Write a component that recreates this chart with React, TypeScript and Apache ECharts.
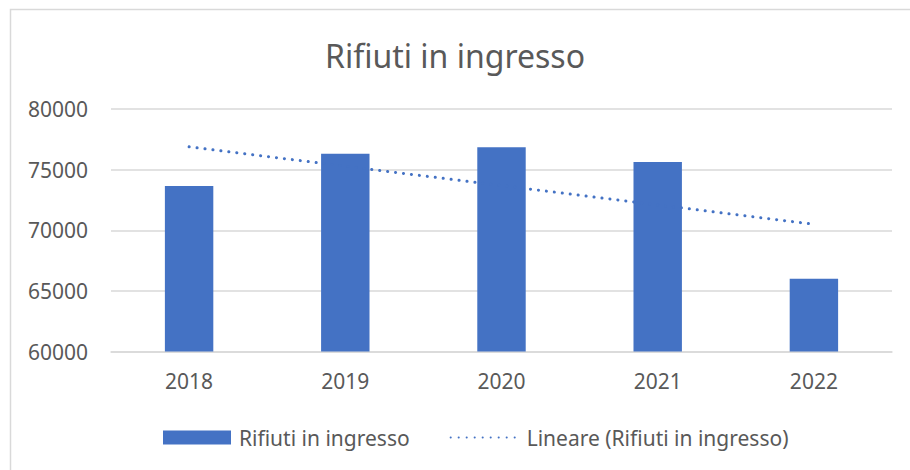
import React, { useEffect, useRef } from "react";
import * as echarts from "echarts";

const categories = ["2018", "2019", "2020", "2021", "2022"];
const values = [73650, 76300, 76850, 75630, 66000];
const seriesName = "Rifiuti in ingresso";
const trendName = "Lineare (Rifiuti in ingresso)";
const titleText = "Rifiuti in ingresso";

// Excel-style linear trendline (least squares) computed from the bar values
function linearTrend(ys: number[]): number[] {
  const n = ys.length;
  const xs = ys.map((_, i) => i + 1);
  const mx = xs.reduce((a, b) => a + b, 0) / n;
  const my = ys.reduce((a, b) => a + b, 0) / n;
  let num = 0;
  let den = 0;
  for (let i = 0; i < n; i++) {
    num += (xs[i] - mx) * (ys[i] - my);
    den += (xs[i] - mx) * (xs[i] - mx);
  }
  const slope = num / den;
  return xs.map((x) => Math.round(my + slope * (x - mx)));
}

const FONT = "Noto Sans";
const TEXT = "#595959";
const BLUE = "#4472C4";
const GRID = "#d9d9d9";

export default function App() {
  const ref = useRef<HTMLDivElement>(null);
  useEffect(() => {
    if (!ref.current) return;
    const chart = echarts.init(ref.current, undefined, { renderer: "svg" });
    const trend = linearTrend(values);
    chart.setOption({
      animation: false,
      backgroundColor: "#ffffff",
      textStyle: { fontFamily: FONT },
      title: {
        text: titleText,
        left: "center",
        top: 34,
        textStyle: { fontFamily: FONT, fontSize: 32, fontWeight: "normal", color: TEXT },
      },
      graphic: [
        {
          type: "rect",
          shape: { x: 10.5, y: 9.5, width: 930, height: 490 },
          style: { fill: "none", stroke: GRID, lineWidth: 1.5 },
          silent: true,
          z: -1,
        },
      ],
      legend: {
        left: 158,
        top: 422,
        itemWidth: 68,
        itemHeight: 14,
        itemGap: 40,
        textStyle: { fontFamily: FONT, fontSize: 21, color: TEXT, padding: [0, 0, 0, 3] },
        data: [
          { name: seriesName, icon: "rect" },
          { name: trendName, itemStyle: { opacity: 0 } },
        ],
      },
      grid: { left: 111, right: 18, top: 109, bottom: 118.5 },
      xAxis: {
        type: "category",
        data: categories,
        axisLine: { show: true, lineStyle: { color: GRID, width: 1.5 } },
        axisTick: { show: false },
        axisLabel: { fontFamily: FONT, fontSize: 21, color: TEXT, margin: 19 },
      },
      yAxis: {
        type: "value",
        min: 60000,
        max: 80000,
        interval: 5000,
        axisLine: { show: false },
        axisTick: { show: false },
        splitLine: { lineStyle: { color: GRID, width: 1.5 } },
        axisLabel: {
          fontFamily: FONT,
          fontSize: 21,
          color: TEXT,
          margin: 23,
          formatter: (v: number) => String(v),
        },
      },
      series: [
        {
          name: seriesName,
          type: "bar",
          data: values,
          barWidth: "31%",
          itemStyle: { color: BLUE },
        },
        {
          name: trendName,
          type: "line",
          data: trend,
          symbol: "none",
          z: 3,
          lineStyle: { color: BLUE, width: 3, type: [0.1, 7.9], cap: "round" },
          itemStyle: { color: BLUE },
        },
      ],
    });
    return () => chart.dispose();
  }, []);
  return (
    <div
      ref={ref}
      style={{ position: "fixed", left: 0, top: 0, width: 910, height: 470, background: "#fff" }}
    />
  );
}
